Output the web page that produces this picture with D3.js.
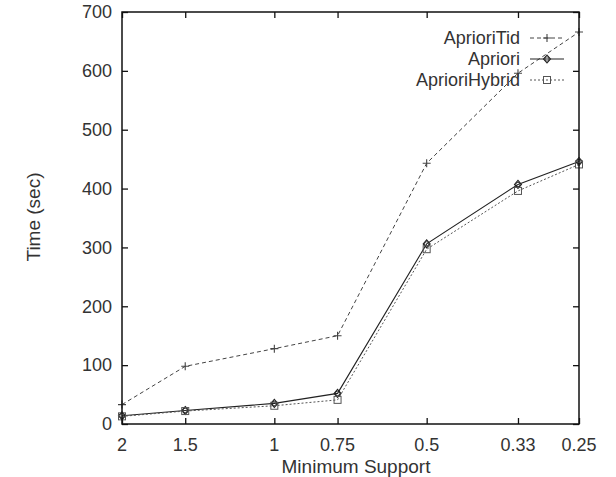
<!DOCTYPE html>
<html>
<head>
<meta charset="utf-8">
<script src="https://cdn.jsdelivr.net/npm/d3@7"></script>
<style>
  html, body { margin: 0; padding: 0; background: #fff; }
  svg text { font-family: "Liberation Sans", Arial, Helvetica, sans-serif; fill: #333; }
</style>
</head>
<body>
<svg id="chart" width="616" height="477"></svg>
<script>
// Minimum support levels (percent) and run times (seconds)
const supports = [2, 1.5, 1, 0.75, 0.5, 0.33, 0.25];
const supportLabels = ["2", "1.5", "1", "0.75", "0.5", "0.33", "0.25"];
const aprioriTid = [33, 98, 128, 150, 443, 596, 666];
const apriori = [14, 23, 35, 52, 306, 407, 446];
const aprioriHybrid = [13, 22, 31, 41, 297, 396, 441];
const yTicks = [0, 100, 200, 300, 400, 500, 600, 700];

const series = [
  { name: "AprioriTid", values: aprioriTid, dash: "4,3", color: "#444", width: 1, marker: "plus" },
  { name: "Apriori", values: apriori, dash: null, color: "#222", width: 1.1, marker: "diamond" },
  { name: "AprioriHybrid", values: aprioriHybrid, dash: "2,2", color: "#555", width: 1, marker: "square" }
];

const svg = d3.select("#chart");
const L = 122, R = 579, T = 12, B = 424;

const x = d3.scaleLog().domain([2, 0.25]).range([L, R]);
const y = d3.scaleLinear().domain([0, 700]).range([B, T]);

// Inward ticks on all four sides
const tickLen = 6;
const g = svg.append("g");

g.append("g").attr("transform", `translate(0,${B})`)
  .call(d3.axisTop(x).tickValues(supports).tickSize(tickLen).tickFormat(""))
  .call(a => a.select(".domain").remove());
g.append("g").attr("transform", `translate(0,${T})`)
  .call(d3.axisBottom(x).tickValues(supports).tickSize(tickLen).tickFormat(""))
  .call(a => a.select(".domain").remove());
g.append("g").attr("transform", `translate(${L},0)`)
  .call(d3.axisRight(y).tickValues(yTicks).tickSize(tickLen).tickFormat(""))
  .call(a => a.select(".domain").remove());
g.append("g").attr("transform", `translate(${R},0)`)
  .call(d3.axisLeft(y).tickValues(yTicks).tickSize(tickLen).tickFormat(""))
  .call(a => a.select(".domain").remove());
g.selectAll(".tick line").attr("stroke", "#111").attr("stroke-width", 1.3);

// Tick labels
svg.append("g").selectAll("text").data(supports).join("text")
  .attr("x", d => x(d)).attr("y", 451)
  .attr("text-anchor", "middle").attr("font-size", 18)
  .text((d, i) => supportLabels[i]);
svg.append("g").selectAll("text").data(yTicks).join("text")
  .attr("x", 112).attr("y", d => y(d)).attr("dy", "0.35em")
  .attr("text-anchor", "end").attr("font-size", 18)
  .text(d => d);

// Axis titles
svg.append("text").attr("x", 356).attr("y", 473)
  .attr("text-anchor", "middle").attr("font-size", 19).text("Minimum Support");
svg.append("text").attr("transform", `translate(33,217) rotate(-90)`)
  .attr("dy", "0.35em")
  .attr("text-anchor", "middle").attr("font-size", 19).text("Time (sec)");

// Markers
function drawMarker(sel, type, color) {
  if (type === "plus") {
    sel.append("path").attr("d", "M-4,0H4M0,-4V4")
      .attr("stroke", color).attr("stroke-width", 1.1).attr("fill", "none");
  } else if (type === "diamond") {
    sel.append("path").attr("d", "M0,-4L3.5,0L0,4L-3.5,0Z")
      .attr("stroke", color).attr("stroke-width", 1.1).attr("fill", "none");
    sel.append("circle").attr("r", 2.2)
      .attr("stroke", color).attr("stroke-width", 0.9).attr("fill", "none");
  } else {
    sel.append("rect").attr("x", -3.5).attr("y", -3.5).attr("width", 7).attr("height", 7)
      .attr("stroke", color).attr("stroke-width", 1).attr("fill", "none");
  }
}

const line = d3.line().x((d, i) => x(supports[i])).y(d => y(d));

series.forEach(s => {
  svg.append("path").datum(s.values)
    .attr("d", line)
    .attr("fill", "none")
    .attr("stroke", s.color)
    .attr("stroke-width", s.width)
    .attr("stroke-dasharray", s.dash);
  svg.append("g").selectAll("g").data(s.values).join("g")
    .attr("transform", (d, i) => `translate(${x(supports[i])},${y(d)})`)
    .each(function () { drawMarker(d3.select(this), s.marker, s.color); });
});

// Legend
const legend = svg.append("g");
series.forEach((s, i) => {
  const ly = 38 + i * 21;
  legend.append("text").attr("x", 520).attr("y", ly).attr("dy", "0.35em")
    .attr("text-anchor", "end").attr("font-size", 18).text(s.name);
  legend.append("line").attr("x1", 530).attr("x2", 564).attr("y1", ly).attr("y2", ly)
    .attr("stroke", s.color).attr("stroke-width", s.width).attr("stroke-dasharray", s.dash);
  const m = legend.append("g").attr("transform", `translate(547,${ly})`);
  drawMarker(m, s.marker, s.color);
});

// Plot frame
svg.append("rect").attr("x", L).attr("y", T).attr("width", R - L).attr("height", B - T)
  .attr("fill", "none").attr("stroke", "#111").attr("stroke-width", 1.5);
</script>
</body>
</html>
